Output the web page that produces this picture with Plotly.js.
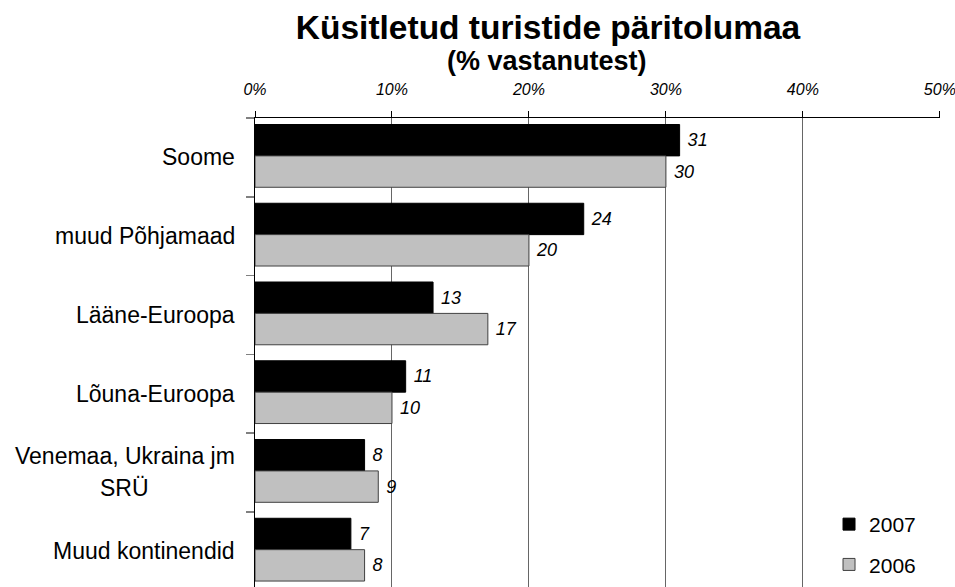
<!DOCTYPE html>
<html>
<head>
<meta charset="utf-8">
<script src="https://cdn.plot.ly/plotly-3.0.1.min.js"></script>
<style>html,body{margin:0;padding:0;background:#fff;}#chart{width:955px;height:587px;}</style>
</head>
<body>
<div id="chart"></div>
<script>
// ---- data ----
const categories = ['Soome', 'muud Põhjamaad', 'Lääne-Euroopa', 'Lõuna-Euroopa', 'Venemaa, Ukraina jm<br>SRÜ', 'Muud kontinendid'];
const series2007 = [31, 24, 13, 11, 8, 7];
const series2006 = [30, 20, 17, 10, 9, 8];
const seriesNames = ['2007', '2006'];
const xTickValues = [0, 10, 20, 30, 40, 50];
const titleText = 'Küsitletud turistide päritolumaa';
const subtitleText = '(% vastanutest)';

const FONT = 'Liberation Sans, Arial, sans-serif';
const catFontSize = 23;

function measure(text, size) {
  const c = document.createElement('canvas').getContext('2d');
  c.font = size + 'px "Liberation Sans", Arial, sans-serif';
  return c.measureText(text).width;
}

const barW = 0.3985;
const off1 = -0.4175;

const traces = [
  {
    type: 'bar', orientation: 'h', name: seriesNames[0], legendgroup: 'a',
    y: categories, x: series2007,
    width: barW, offset: off1,
    marker: {color: '#000000', line: {color: '#000000', width: 1}},
    text: series2007.map(String), texttemplate: '\u00a0%{text}',
    textposition: 'outside', constraintext: 'none', cliponaxis: false,
    textfont: {family: FONT, size: 18, color: '#000', style: 'italic'},
    hoverinfo: 'skip'
  },
  {
    type: 'bar', orientation: 'h', name: seriesNames[1], legendgroup: 'b',
    y: categories, x: series2006,
    width: barW, offset: off1 + barW,
    marker: {color: '#C0C0C0', line: {color: '#404040', width: 1}},
    text: series2006.map(String), texttemplate: '\u00a0%{text}',
    textposition: 'outside', constraintext: 'none', cliponaxis: false,
    textfont: {family: FONT, size: 18, color: '#000', style: 'italic'},
    hoverinfo: 'skip'
  }
];

const annotations = [];
categories.forEach(function (cat) {
  const lines = cat.split('<br>');
  if (lines.length === 1) {
    annotations.push({
      xref: 'paper', yref: 'y', x: 0, y: cat, xanchor: 'right', yanchor: 'middle',
      xshift: -18, text: lines[0], showarrow: false,
      font: {family: FONT, size: catFontSize, color: '#000'}
    });
  } else {
    const w = measure(lines[0], catFontSize);
    annotations.push({
      xref: 'paper', yref: 'y', x: 0, y: cat, xanchor: 'right', yanchor: 'middle',
      xshift: -18, yshift: 16, text: lines[0], showarrow: false,
      font: {family: FONT, size: catFontSize, color: '#000'}
    });
    annotations.push({
      xref: 'paper', yref: 'y', x: 0, y: cat, xanchor: 'center', yanchor: 'middle',
      xshift: -21 - w / 2, yshift: -16, text: lines[1], showarrow: false,
      font: {family: FONT, size: catFontSize, color: '#000'}
    });
  }
});
annotations.push({
  xref: 'paper', yref: 'paper', x: 0.4266, y: 1.122, xanchor: 'center', yanchor: 'middle',
  text: '<b>' + subtitleText + '</b>', showarrow: false,
  font: {family: FONT, size: 27, color: '#000'}
});

const layout = {
  width: 955, height: 587,
  margin: {l: 255, r: 15, t: 118, b: 0, pad: 0},
  paper_bgcolor: '#ffffff', plot_bgcolor: '#ffffff',
  title: {
    text: '<b>' + titleText + '</b>',
    font: {family: FONT, size: 33.5, color: '#000'},
    x: 548 / 955, xanchor: 'center', xref: 'container',
    y: 1 - 27 / 587, yanchor: 'middle', yref: 'container'
  },
  barmode: 'group',
  showlegend: true,
  legend: {
    x: 0.838, xanchor: 'left', y: 0.177, yanchor: 'top',
    bgcolor: 'rgba(0,0,0,0)', borderwidth: 0,
    font: {family: FONT, size: 21, color: '#000'},
    traceorder: 'grouped', tracegroupgap: 10
  },
  xaxis: {
    side: 'top', range: [0, 50.01], autorange: false,
    tickvals: xTickValues, ticktext: xTickValues.map(v => v + '%'),
    showgrid: true, gridcolor: '#666666', gridwidth: 1,
    showline: true, linecolor: '#000', linewidth: 1,
    ticks: 'outside', ticklen: 6, tickcolor: '#000', tickwidth: 1,
    tickfont: {family: FONT, size: 16, color: '#000', style: 'italic'},
    ticklabelstandoff: 10, ticklabeloverflow: 'allow',
    zeroline: false, fixedrange: true
  },
  yaxis: {
    type: 'category', autorange: false, range: [5.455, -0.5],
    showticklabels: false, showgrid: false, zeroline: false,
    showline: true, linecolor: '#000', linewidth: 1,
    ticks: 'outside', tickson: 'boundaries', ticklen: 8, tickcolor: '#808080', tickwidth: 1.5,
    fixedrange: true
  },
  annotations: annotations
};

Plotly.newPlot('chart', traces, layout, {staticPlot: true, displayModeBar: false});
</script>
</body>
</html>
